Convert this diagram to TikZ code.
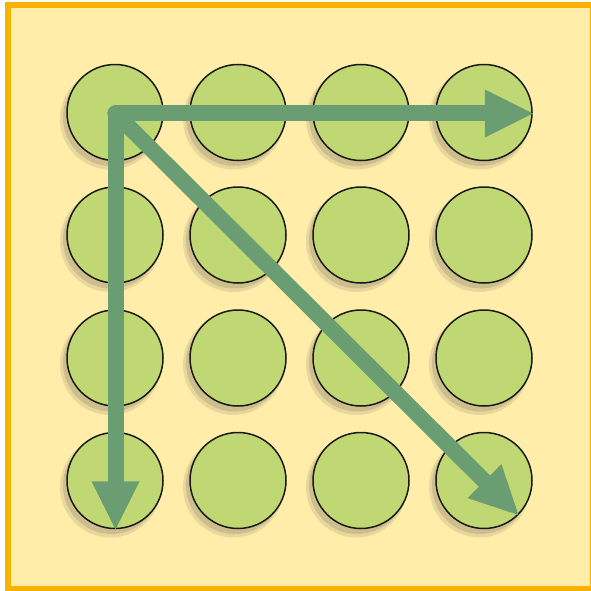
\documentclass[tikz,border=0pt]{standalone}
\usetikzlibrary{arrows.meta}
\definecolor{bgfill}{HTML}{FFEDA9}
\definecolor{bgborder}{HTML}{F8B200}
\definecolor{dotfill}{HTML}{C0D873}
\definecolor{shadowc}{HTML}{CDBE8D}
\definecolor{arrowc}{HTML}{6A9D72}
\tikzset{
  dot/.style={circle, draw=black!90, line width=1.5pt, fill=dotfill, minimum size=96pt, inner sep=0pt},
  dotshadow/.style={circle, fill=shadowc, minimum size=97pt, inner sep=0pt},
  dotshadowsoft/.style={circle, fill=shadowc, opacity=0.45, minimum size=101pt, inner sep=0pt},
  bigarrow/.style={draw=arrowc, line width=16pt, line cap=round, line join=round,
    -{Triangle[length=48pt, width=48pt, line width=0pt]}},
}
\begin{document}
\begin{tikzpicture}[x=1pt, y=-1pt]
\useasboundingbox (0,0) rectangle (590,591);
\draw[fill=bgfill, draw=bgborder, line width=6pt] (8,5) rectangle (593,589);
% shadows
\foreach \i/\cx in {1/115,2/238,3/361,4/484}{
  \foreach \j/\cy in {1/112.5,2/235,3/358,4/480.5}{
    \node[dotshadowsoft] (s\j\i b) at (\cx-4.5,\cy+6.5) {};
    \node[dotshadow] (s\j\i) at (\cx-3.5,\cy+5) {};
  }
}
% circles
\foreach \i/\cx in {1/115,2/238,3/361,4/484}{
  \foreach \j/\cy in {1/112.5,2/235,3/358,4/480.5}{
    \node[dot] (c\j\i) at (\cx,\cy) {};
  }
}
\coordinate (start) at (115.5,113.5);
\draw[bigarrow] (start) -- (c14.east |- start);
\draw[bigarrow] (start) -- (start |- c41.south);
\draw[bigarrow] (start) -- (c44.south east);
\end{tikzpicture}
\end{document}
